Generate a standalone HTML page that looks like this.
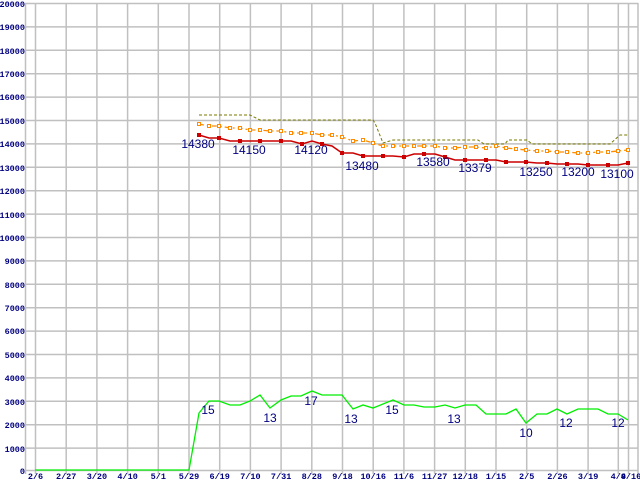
<!DOCTYPE html>
<html><head><style>body{margin:0;background:#fff}svg{display:block}</style></head><body>
<svg width="640" height="480" xmlns="http://www.w3.org/2000/svg">
<g stroke="#c0c0c0" stroke-width="1.5">
<line x1="25" y1="3.5" x2="638" y2="3.5"/><line x1="25" y1="26.9" x2="638" y2="26.9"/><line x1="25" y1="50.3" x2="638" y2="50.3"/><line x1="25" y1="73.7" x2="638" y2="73.7"/><line x1="25" y1="97.1" x2="638" y2="97.1"/><line x1="25" y1="120.5" x2="638" y2="120.5"/><line x1="25" y1="143.9" x2="638" y2="143.9"/><line x1="25" y1="167.3" x2="638" y2="167.3"/><line x1="25" y1="190.7" x2="638" y2="190.7"/><line x1="25" y1="214.1" x2="638" y2="214.1"/><line x1="25" y1="237.5" x2="638" y2="237.5"/><line x1="25" y1="260.9" x2="638" y2="260.9"/><line x1="25" y1="284.3" x2="638" y2="284.3"/><line x1="25" y1="307.7" x2="638" y2="307.7"/><line x1="25" y1="331.1" x2="638" y2="331.1"/><line x1="25" y1="354.5" x2="638" y2="354.5"/><line x1="25" y1="377.9" x2="638" y2="377.9"/><line x1="25" y1="401.3" x2="638" y2="401.3"/><line x1="25" y1="424.7" x2="638" y2="424.7"/><line x1="25" y1="448.1" x2="638" y2="448.1"/><line x1="25" y1="470.5" x2="638" y2="470.5"/>
<line x1="35.5" y1="3" x2="35.5" y2="474"/><line x1="66.2" y1="3" x2="66.2" y2="474"/><line x1="96.9" y1="3" x2="96.9" y2="474"/><line x1="127.6" y1="3" x2="127.6" y2="474"/><line x1="158.3" y1="3" x2="158.3" y2="474"/><line x1="189" y1="3" x2="189" y2="474"/><line x1="219.7" y1="3" x2="219.7" y2="474"/><line x1="250.4" y1="3" x2="250.4" y2="474"/><line x1="281.1" y1="3" x2="281.1" y2="474"/><line x1="311.8" y1="3" x2="311.8" y2="474"/><line x1="342.5" y1="3" x2="342.5" y2="474"/><line x1="373.2" y1="3" x2="373.2" y2="474"/><line x1="403.9" y1="3" x2="403.9" y2="474"/><line x1="434.6" y1="3" x2="434.6" y2="474"/><line x1="465.3" y1="3" x2="465.3" y2="474"/><line x1="496" y1="3" x2="496" y2="474"/><line x1="526.7" y1="3" x2="526.7" y2="474"/><line x1="557.4" y1="3" x2="557.4" y2="474"/><line x1="588.1" y1="3" x2="588.1" y2="474"/><line x1="618.3" y1="3" x2="618.3" y2="474"/><line x1="628.5" y1="3" x2="628.5" y2="474"/><line x1="638" y1="3" x2="638" y2="474"/>
<line x1="25.5" y1="3" x2="25.5" y2="474"/>
</g>
<g font-family="Liberation Mono, monospace" font-size="8.5" font-weight="bold" fill="#000080" text-anchor="end">
<text x="25" y="7">20000</text><text x="25" y="30">19000</text><text x="25" y="54">18000</text><text x="25" y="77">17000</text><text x="25" y="100">16000</text><text x="25" y="124">15000</text><text x="25" y="147">14000</text><text x="25" y="171">13000</text><text x="25" y="194">12000</text><text x="25" y="218">11000</text><text x="25" y="241">10000</text><text x="25" y="264">9000</text><text x="25" y="288">8000</text><text x="25" y="311">7000</text><text x="25" y="334">6000</text><text x="25" y="358">5000</text><text x="25" y="381">4000</text><text x="25" y="405">3000</text><text x="25" y="428">2000</text><text x="25" y="452">1000</text><text x="25" y="474">0</text>
</g>
<g font-family="Liberation Mono, monospace" font-size="8.5" font-weight="bold" fill="#000080" text-anchor="middle">
<text x="35.5" y="479">2/6</text><text x="66.2" y="479">2/27</text><text x="96.9" y="479">3/20</text><text x="127.6" y="479">4/10</text><text x="158.3" y="479">5/1</text><text x="189" y="479">5/29</text><text x="219.7" y="479">6/19</text><text x="250.4" y="479">7/10</text><text x="281.1" y="479">7/31</text><text x="311.8" y="479">8/28</text><text x="342.5" y="479">9/18</text><text x="373.2" y="479">10/16</text><text x="403.9" y="479">11/6</text><text x="434.6" y="479">11/27</text><text x="465.3" y="479">12/18</text><text x="496" y="479">1/15</text><text x="526.7" y="479">2/5</text><text x="557.4" y="479">2/26</text><text x="588.1" y="479">3/19</text><text x="618.3" y="479">4/9</text><text x="631" y="479">4/16</text>
</g>
<polyline fill="none" stroke="#7a7a00" stroke-width="1" stroke-dasharray="3,2" points="199,115 250,115 260,120 373,120 375,123 383,143 393,140 478,140 484,144 505,144 508,140 527,140 532,144 610,144 620,135 628,135"/>
<polyline fill="none" stroke="#ff8c00" stroke-width="1.3" stroke-dasharray="5,3,2,3" points="199,124 209,126 219,126 230,128 240,128 250,130 260,130 270,131 281,131 291,133 301,133 312,133 322,135 332,135 342,137 353,141 363,140 373,143 383,146 393,146 404,146 414,146 424,146 435,146 445,148 455,148 465,147 476,147 486,148 496,146 506,148 516,149 526,150 537,151 547,151 557,152 567,152 578,153 588,153 598,152 608,152 618,151 628,150"/>
<g fill="#fff" stroke="#ff8c00" stroke-width="1">
<rect x="197.5" y="122.5" width="3" height="3"/><rect x="207.5" y="124.5" width="3" height="3"/><rect x="217.5" y="124.5" width="3" height="3"/><rect x="228.5" y="126.5" width="3" height="3"/><rect x="238.5" y="126.5" width="3" height="3"/><rect x="248.5" y="128.5" width="3" height="3"/><rect x="258.5" y="128.5" width="3" height="3"/><rect x="268.5" y="129.5" width="3" height="3"/><rect x="279.5" y="129.5" width="3" height="3"/><rect x="289.5" y="131.5" width="3" height="3"/><rect x="299.5" y="131.5" width="3" height="3"/><rect x="310.5" y="131.5" width="3" height="3"/><rect x="320.5" y="133.5" width="3" height="3"/><rect x="330.5" y="133.5" width="3" height="3"/><rect x="340.5" y="135.5" width="3" height="3"/><rect x="351.5" y="139.5" width="3" height="3"/><rect x="361.5" y="138.5" width="3" height="3"/><rect x="371.5" y="141.5" width="3" height="3"/><rect x="381.5" y="144.5" width="3" height="3"/><rect x="391.5" y="144.5" width="3" height="3"/><rect x="402.5" y="144.5" width="3" height="3"/><rect x="412.5" y="144.5" width="3" height="3"/><rect x="422.5" y="144.5" width="3" height="3"/><rect x="433.5" y="144.5" width="3" height="3"/><rect x="443.5" y="146.5" width="3" height="3"/><rect x="453.5" y="146.5" width="3" height="3"/><rect x="463.5" y="145.5" width="3" height="3"/><rect x="474.5" y="145.5" width="3" height="3"/><rect x="484.5" y="146.5" width="3" height="3"/><rect x="494.5" y="144.5" width="3" height="3"/><rect x="504.5" y="146.5" width="3" height="3"/><rect x="514.5" y="147.5" width="3" height="3"/><rect x="524.5" y="148.5" width="3" height="3"/><rect x="535.5" y="149.5" width="3" height="3"/><rect x="545.5" y="149.5" width="3" height="3"/><rect x="555.5" y="150.5" width="3" height="3"/><rect x="565.5" y="150.5" width="3" height="3"/><rect x="576.5" y="151.5" width="3" height="3"/><rect x="586.5" y="151.5" width="3" height="3"/><rect x="596.5" y="150.5" width="3" height="3"/><rect x="606.5" y="150.5" width="3" height="3"/><rect x="616.5" y="149.5" width="3" height="3"/><rect x="626.5" y="148.5" width="3" height="3"/>
</g>
<polyline fill="none" stroke="#cc0000" stroke-width="1.5" points="199,135 209,138 219,138 230,141 240,141 250,141 260,141 270,141 281,141 291,141 302,144 312,141 322,144 332,146 342,153 353,153 363,156 373,156 383,156 393,156 404,157 414,154 424,154 435,154 445,157 455,160 465,160 476,160 486,160 496,160 506,162 516,162 526,162 537,163 547,163 557,164 567,164 578,164 588,165 598,165 608,165 618,165 628,163"/>
<g fill="#cc0000">
<rect x="197" y="133" width="4" height="4"/><rect x="217" y="136" width="4" height="4"/><rect x="238" y="139" width="4" height="4"/><rect x="258" y="139" width="4" height="4"/><rect x="279" y="139" width="4" height="4"/><rect x="300" y="142" width="4" height="4"/><rect x="320" y="142" width="4" height="4"/><rect x="340" y="151" width="4" height="4"/><rect x="361" y="154" width="4" height="4"/><rect x="381" y="154" width="4" height="4"/><rect x="402" y="155" width="4" height="4"/><rect x="422" y="152" width="4" height="4"/><rect x="443" y="155" width="4" height="4"/><rect x="463" y="158" width="4" height="4"/><rect x="484" y="158" width="4" height="4"/><rect x="504" y="160" width="4" height="4"/><rect x="524" y="160" width="4" height="4"/><rect x="545" y="161" width="4" height="4"/><rect x="565" y="162" width="4" height="4"/><rect x="586" y="163" width="4" height="4"/><rect x="606" y="163" width="4" height="4"/><rect x="626" y="161" width="4" height="4"/>
</g>
<polyline fill="none" stroke="#00ee00" stroke-width="1.3" points="35,470 189,470 199,413 209,401 219,401 230,405 240,405 250,401 260,395 270,408 281,400 291,396 301,396 312,391 322,395 342,395 353,409 363,405 373,408 383,404 393,400 404,405 414,405 424,407 435,407 445,405 455,408 465,405 476,405 486,414 506,414 516,409 526,423 537,414 547,414 557,409 567,414 578,409 598,409 608,414 618,414 628,420"/>
<g font-family="Liberation Sans, sans-serif" font-size="12" fill="#000080" text-anchor="middle">
<text x="198" y="148">14380</text><text x="249" y="154">14150</text><text x="311" y="154">14120</text><text x="362" y="170">13480</text><text x="433" y="166">13580</text><text x="475" y="172">13379</text><text x="536" y="176">13250</text><text x="578" y="176">13200</text><text x="617" y="178">13100</text>
<text x="208" y="414">15</text><text x="270" y="422">13</text><text x="311" y="405">17</text><text x="351" y="423">13</text><text x="392" y="414">15</text><text x="454" y="423">13</text><text x="526" y="437">10</text><text x="566" y="427">12</text><text x="618" y="427">12</text>
</g>
</svg>
</body></html>
